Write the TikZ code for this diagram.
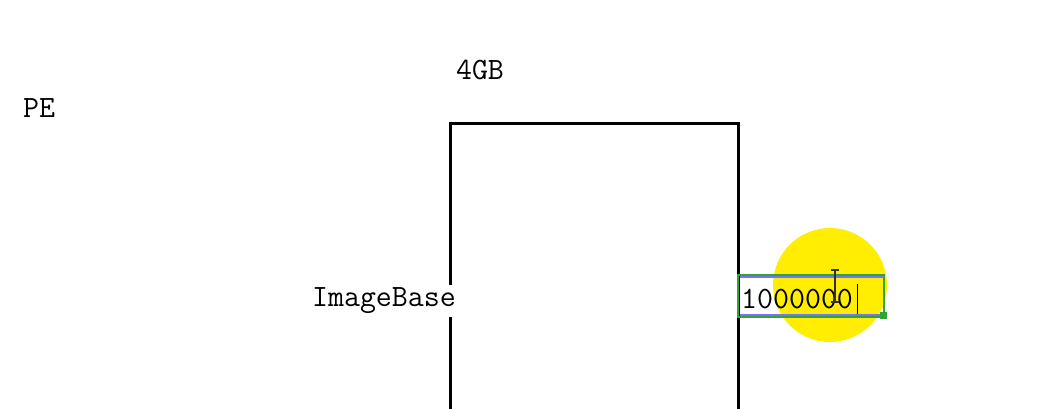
\documentclass[tikz,border=0pt]{standalone}
\usetikzlibrary{positioning}

\begin{document}
\begin{tikzpicture}[x=1pt,y=-1pt,
    label text/.style={font=\fontsize{31}{34}\selectfont\ttfamily,inner sep=0pt},
    mem box/.style={draw=black,line width=3pt},
    edit box/.style={draw=green!55!black!80,line width=1.8pt}]

	\useasboundingbox (0,0) rectangle (1041,408);

	% the memory block and the highlight
	\draw[mem box] (450,420) |- (738,123) -- (738,420);
	\fill[yellow!98!red] (830,285) circle (57);

	\node[label text] (pe) at (39,108) {PE};
	\node[label text] (size) at (480,70) {4GB};
	\node[label text,fill=white,inner ysep=3pt,anchor=east] (base) at (456,301) {ImageBase};

	% text box being edited
	\node[label text,anchor=west] (value) at (741,299) {1000000};
	\draw[edit box] (738,275) rectangle (884,317);
	\draw[blue!55,line width=1.2pt] (740,277) -- (884,277) (740,315) -- (884,315);
	\fill[green!55!black!80] (880,312) rectangle (887,319);
	\draw[black,line width=1.2pt] (value.east) ++(4,-15) -- ++(0,30);
	\draw[black!80,line width=1.2pt] (831,270) -- (839,270) (835,270) -- (835,302) (831,302) -- (839,302);

\end{tikzpicture}
\end{document}
